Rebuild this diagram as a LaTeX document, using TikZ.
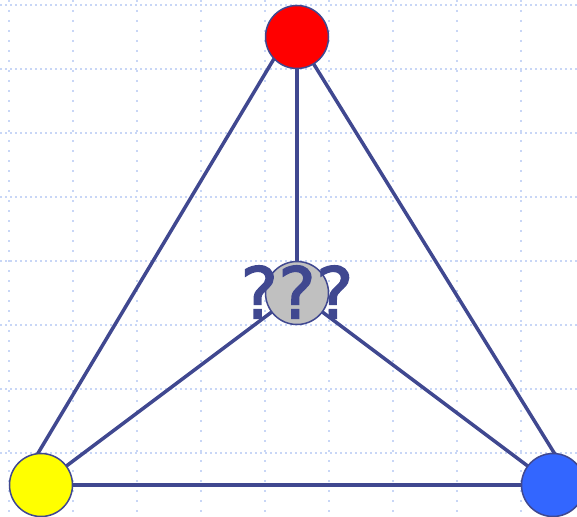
\documentclass[tikz,border=0pt]{standalone}
\usepackage{fontspec}
\usetikzlibrary{backgrounds}
\newfontfamily\qfont[FakeBold=2]{DejaVu Sans}
\definecolor{edgeblue}{RGB}{64,72,144}
\definecolor{gridblue}{RGB}{200,214,246}
\definecolor{nodeblue}{RGB}{51,102,255}
\definecolor{nodegray}{RGB}{192,192,192}
\definecolor{nodeyellow}{RGB}{255,255,0}
\begin{document}
\begin{tikzpicture}[x=1pt,y=-1pt,
  vtx/.style={circle,draw=edgeblue,line width=1.5pt,minimum size=63pt,inner sep=0pt},
  edge/.style={draw=edgeblue,line width=3.5pt},
  hgrid/.style={draw=gridblue,line width=1.6pt,dash pattern=on 2pt off 3pt},
  vgrid/.style={draw=gridblue,line width=1.6pt,dash pattern=on 2pt off 8pt}]
\useasboundingbox (0,0) rectangle (577,516);
\node[vtx,fill=red] (r) at (297,37) {};
\node[vtx,fill=nodeyellow] (y) at (41,485) {};
\node[vtx,fill=nodeblue] (b) at (553,485) {};
\node[vtx,fill=nodegray] (g) at (297,293) {};
\begin{pgfonlayer}{background}
\foreach \y in {5,69,133,197,261,325,389,453}
  \draw[hgrid] (0,\y) -- (577,\y);
\foreach \x in {9,73,137,201,265,329,393,457,521}
  \draw[vgrid] (\x,0) -- (\x,516);
\draw[edge] ([xshift=-10pt]r.center) -- ([xshift=-22pt]y.center);
\draw[edge] (r.center) -- ([xshift=21pt]b.center);
\draw[edge] (r.center) -- (g.center);
\draw[edge] (g.center) -- (y.center);
\draw[edge] (g.center) -- (b.center);
\draw[edge] (y.center) -- (b.center);
\end{pgfonlayer}
\node[text=edgeblue,inner sep=0pt] (q) at (297,292) {\qfont\fontsize{71}{71}\selectfont ???};
\end{tikzpicture}
\end{document}
